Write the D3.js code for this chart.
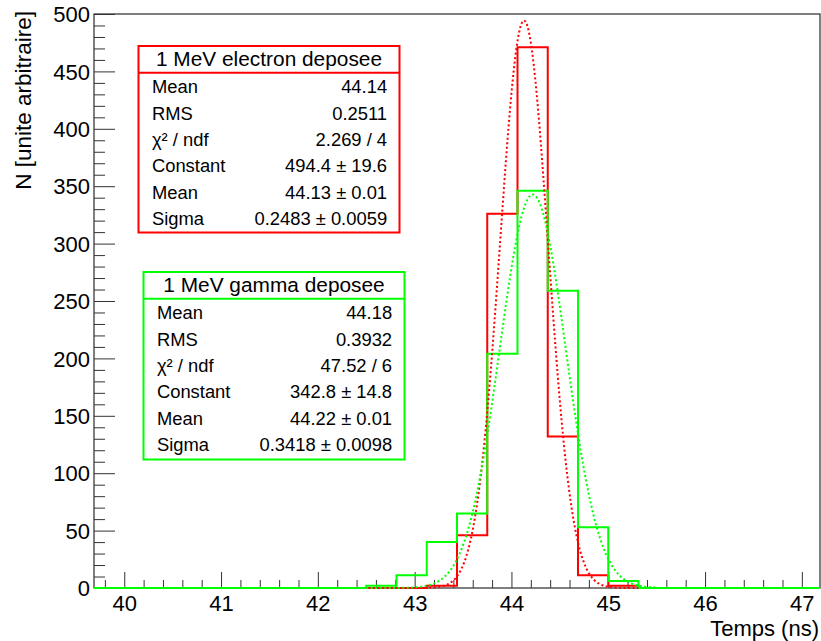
<!DOCTYPE html>
<html><head><meta charset="utf-8">
<script src="https://cdn.jsdelivr.net/npm/d3@7/dist/d3.min.js"></script>
<style>
body{margin:0;background:#fff}
svg{display:block}
text{font-family:"Liberation Sans",Arial,Helvetica,sans-serif;fill:#000}
</style>
</head><body>
<svg id="c" width="821" height="641"></svg>
<script>
// ---- data ----
const binStart = 39.6875;
const binWidth = 0.3125;
const electronCounts = [0,0,0,0,0,0,0,0,0,0,0,2,46,326,471,132,11,2,0,0,0,0,0,0];
const gammaCounts    = [0,0,0,0,0,0,0,0,0,2,11,40,65,204,346,259,53,6,0,0,0,0,0,0];
const xMajorTicks = [40,41,42,43,44,45,46,47];
const yMajorTicks = [0,50,100,150,200,250,300,350,400,450,500];
const seriesNames = ["1 MeV electron deposee","1 MeV gamma deposee"];
const fitConstants = [494.4, 342.8];
const fitMeans = [44.13, 44.22];
const fitSigmas = [0.2483, 0.3418];
const fitRanges = [[42.5, 45.3125],[42.5, 45.5]];
const statLabels = ["Mean","RMS","χ² / ndf","Constant","Mean","Sigma"];
const electronStatValues = ["44.14","0.2511","2.269 / 4","494.4 ± 19.6","44.13 ± 0.01","0.2483 ± 0.0059"];
const gammaStatValues    = ["44.18","0.3932","47.52 / 6","342.8 ± 14.8","44.22 ± 0.01","0.3418 ± 0.0098"];
const xTitle = "Temps (ns)";
const yTitle = "N [unite arbitraire]";

// ---- layout ----
const svg = d3.select("#c");
const L = 94, R = 820, T = 14, B = 588;
const nb = electronCounts.length;
const x = d3.scaleLinear().domain([binStart, binStart + nb*binWidth]).range([L, R]);
const y = d3.scaleLinear().domain([0, 500]).range([B, T]);
const colors = ["#ff0000", "#00ff00"];

// frame
svg.append("rect").attr("x", L).attr("y", T).attr("width", R-L).attr("height", B-T)
  .attr("fill", "none").attr("stroke", "#000").attr("stroke-width", 1);

// y axis
const yMinor = d3.range(0, 501, 10).filter(v => v % 50 !== 0);
const gy = svg.append("g").attr("transform", `translate(${L},0)`);
gy.call(d3.axisLeft(y).tickValues(yMajorTicks).tickSize(-21).tickPadding(4).tickFormat(d3.format("d")));
gy.append("g").call(d3.axisLeft(y).tickValues(yMinor).tickSize(-11).tickFormat(""));
gy.selectAll(".domain").remove();
gy.selectAll("line").attr("stroke", "#333");
gy.selectAll("text").attr("font-size", 22).attr("font-family", '"Liberation Sans",Arial,sans-serif').attr("fill","#000").attr("dy","0.35em");

// x axis
const xMinor = d3.range(39.8, 47.19, 0.2).map(v => +v.toFixed(1)).filter(v => Math.abs(v - Math.round(v)) > 1e-6);
const gx = svg.append("g").attr("transform", `translate(0,${B})`);
gx.call(d3.axisBottom(x).tickValues(xMajorTicks).tickSize(-16).tickPadding(7).tickFormat(d3.format("d")));
gx.append("g").call(d3.axisBottom(x).tickValues(xMinor).tickSize(-8).tickFormat(""));
gx.selectAll(".domain").remove();
gx.selectAll("line").attr("stroke", "#333");
gx.selectAll("text").attr("font-size", 22).attr("font-family", '"Liberation Sans",Arial,sans-serif').attr("fill","#000");

// axis titles
svg.append("text").attr("x", R - 1).attr("y", 636).attr("text-anchor", "end")
  .attr("font-size", 22).text(xTitle);
svg.append("text").attr("transform", `translate(31,${T - 3}) rotate(-90)`).attr("text-anchor", "end")
  .attr("font-size", 22.5).text(yTitle);

// histograms
function stepPoints(counts) {
  const pts = [[binStart, 0]];
  counts.forEach((c, i) => {
    pts.push([binStart + i*binWidth, c]);
    pts.push([binStart + (i+1)*binWidth, c]);
  });
  pts.push([binStart + nb*binWidth, 0]);
  return pts;
}
const line = d3.line().x(d => x(d[0])).y(d => y(d[1]));
[electronCounts, gammaCounts].forEach((counts, s) => {
  svg.append("path").attr("d", line(stepPoints(counts)))
    .attr("fill", "none").attr("stroke", colors[s]).attr("stroke-width", 2)
    .attr("stroke-linejoin", "miter");
});

// fitted gaussians (from displayed fit parameters)
[0, 1].forEach(s => {
  const [a, b] = fitRanges[s];
  const xs = d3.range(0, 201).map(i => a + (b - a) * i / 200);
  const pts = xs.map(v => [v, fitConstants[s] * Math.exp(-0.5 * Math.pow((v - fitMeans[s]) / fitSigmas[s], 2))]);
  svg.append("path").attr("d", line(pts))
    .attr("fill", "none").attr("stroke", colors[s]).attr("stroke-width", 2)
    .attr("stroke-dasharray", "2,2.5");
});

// stat boxes
const boxes = [
  {x0: 138.5, x1: 399.5, y0: 46, y1: 232.5, values: electronStatValues},
  {x0: 143.5, x1: 404.5, y0: 272, y1: 459.5, values: gammaStatValues}
];
boxes.forEach((bx, s) => {
  const g = svg.append("g");
  g.append("rect").attr("x", bx.x0).attr("y", bx.y0).attr("width", bx.x1 - bx.x0).attr("height", bx.y1 - bx.y0)
    .attr("fill", "#fff").attr("stroke", colors[s]).attr("stroke-width", 2);
  g.append("line").attr("x1", bx.x0).attr("x2", bx.x1).attr("y1", bx.y0 + 26.7).attr("y2", bx.y0 + 26.7)
    .attr("stroke", colors[s]).attr("stroke-width", 2);
  g.append("text").attr("transform", `translate(${(bx.x0 + bx.x1)/2},${bx.y0 + 20}) scale(1.07,1)`)
    .attr("text-anchor", "middle").attr("font-size", 19.5).text(seriesNames[s]);
  statLabels.forEach((lab, i) => {
    const by = bx.y0 + 47.4 + i * 26.3;
    g.append("text").attr("transform", `translate(${bx.x0 + 13.4},${by}) scale(1.05,1)`)
      .attr("font-size", 17.5).text(lab);
    g.append("text").attr("transform", `translate(${bx.x1 - 12.4},${by}) scale(1.05,1)`)
      .attr("text-anchor", "end").attr("font-size", 17.5).text(bx.values[i]);
  });
});
</script>
</body></html>
